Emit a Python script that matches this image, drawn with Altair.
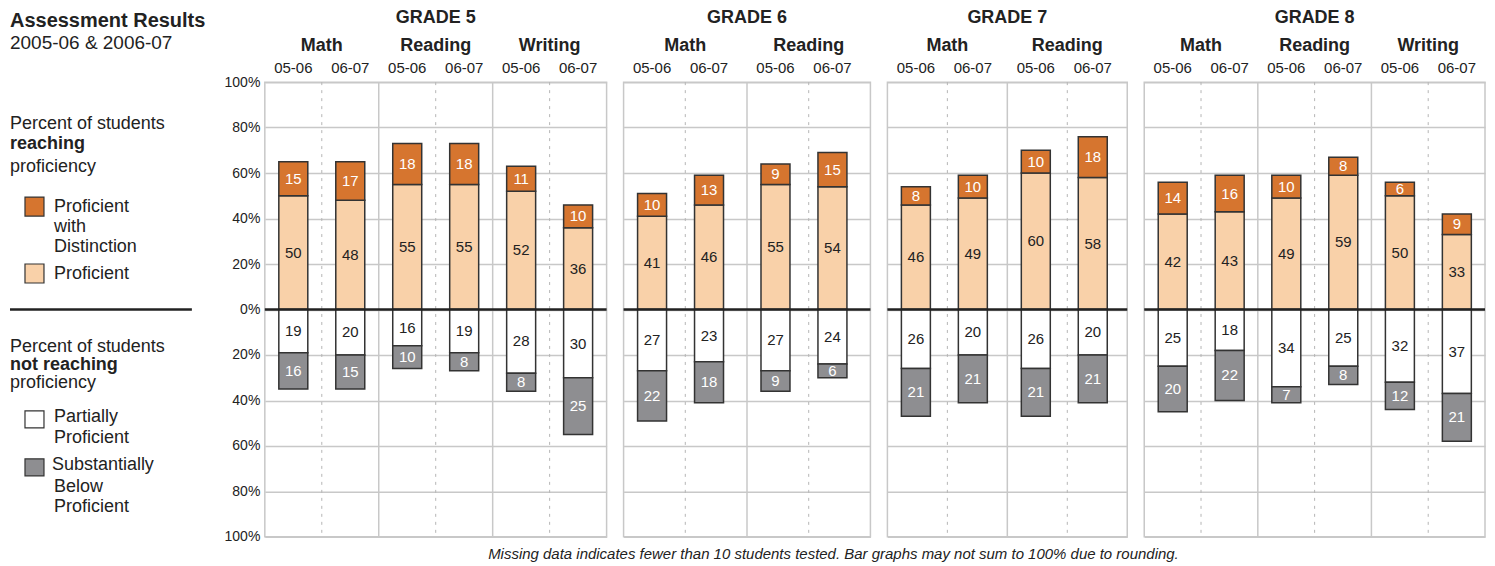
import altair as alt
import pandas as pd

# ---------------- data ----------------
grades = ["GRADE 5", "GRADE 6", "GRADE 7", "GRADE 8"]
grade_subjects = [
    ["Math", "Reading", "Writing"],
    ["Math", "Reading"],
    ["Math", "Reading"],
    ["Math", "Reading", "Writing"],
]
years = ["05-06", "06-07"]

bar_grade = ["GRADE 5"] * 6 + ["GRADE 6"] * 4 + ["GRADE 7"] * 4 + ["GRADE 8"] * 6
bar_subject = [
    "Math", "Math", "Reading", "Reading", "Writing", "Writing",
    "Math", "Math", "Reading", "Reading",
    "Math", "Math", "Reading", "Reading",
    "Math", "Math", "Reading", "Reading", "Writing", "Writing",
]
bar_year = years * 10

distinction = [15, 17, 18, 18, 11, 10, 10, 13, 9, 15, 8, 10, 10, 18, 14, 16, 10, 8, 6, 9]
proficient = [50, 48, 55, 55, 52, 36, 41, 46, 55, 54, 46, 49, 60, 58, 42, 43, 49, 59, 50, 33]
partially = [19, 20, 16, 19, 28, 30, 27, 23, 27, 24, 26, 20, 26, 20, 25, 18, 34, 25, 32, 37]
substantially = [16, 15, 10, 8, 8, 25, 22, 18, 9, 6, 21, 21, 21, 21, 20, 22, 7, 8, 12, 21]

levels = ["Proficient with Distinction", "Proficient", "Partially Proficient",
          "Substantially Below Proficient"]
level_colors = ["#D6752F", "#F9D1A9", "#FFFFFF", "#8E8E91"]

footnote = ("Missing data indicates fewer than 10 students tested. "
            "Bar graphs may not sum to 100% due to rounding.")

# ---------------- layout ----------------
FONT = "Liberation Sans, Arial, Helvetica, sans-serif"
TXT = "#222222"
GRID = "#c8c8c8"
H = 455
panel_widths = [342, 247, 240, 341]
LEG_W = 238
SPACING = 17

# ---------------- tables ----------------
bars = pd.DataFrame({"grade": bar_grade, "subject": bar_subject, "year": bar_year})
rows = []
for i in range(len(bar_grade)):
    p, d, pp, sb = proficient[i], distinction[i], partially[i], substantially[i]
    segs = [
        (levels[1], 0, p, p),
        (levels[0], p, p + d, d),
        (levels[2], 0, -pp, pp),
        (levels[3], -pp, -(pp + sb), sb),
    ]
    for lev, a, b, v in segs:
        rows.append({"grade": bar_grade[i], "subject": bar_subject[i], "year": bar_year[i],
                     "level": lev, "y0": a, "y1": b, "mid": (a + b) / 2, "val": v})
seg = pd.DataFrame(rows)


def panel(gi):
    g = grades[gi]
    subs = grade_subjects[gi]
    W = panel_widths[gi]
    first = gi == 0
    d = seg[seg.grade == g]
    b = bars[bars.grade == g]

    xaxis = alt.Axis(orient="top", title=None, labelFontSize=18, labelFontWeight="bold",
                     labelColor=TXT, labelFont=FONT, labelPadding=32,
                     labelBaseline="alphabetic", labelAngle=0, ticks=False, tickSize=0,
                     domain=False, grid=False)
    xscale = alt.Scale(domain=subs, paddingInner=0, paddingOuter=0)
    X = alt.X("subject:N", scale=xscale, axis=xaxis)
    XO = alt.XOffset("year:N", scale=alt.Scale(domain=years, paddingInner=0, paddingOuter=0))
    yaxis = alt.Axis(title=None, values=list(range(-100, 101, 20)), labels=first,
                     labelExpr="abs(datum.value) + '%'", labelFontSize=14, labelFont=FONT,
                     labelColor=TXT, labelPadding=5, ticks=False, domain=False,
                     grid=True, gridColor=GRID, gridWidth=1.5)
    yscale = alt.Scale(domain=[-100, 100], nice=False, zero=False)

    bar_layer = alt.Chart(d).mark_bar(width=29, stroke="#333333", strokeWidth=1.5).encode(
        x=X, xOffset=XO,
        y=alt.Y("y0:Q", scale=yscale, axis=yaxis),
        y2="y1:Q",
        color=alt.Color("level:N", scale=alt.Scale(domain=levels, range=level_colors), legend=None),
    )
    lab_layer = alt.Chart(d).mark_text(fontSize=15, font=FONT, baseline="middle").encode(
        x=X, xOffset=XO,
        y=alt.Y("mid:Q", scale=yscale, axis=yaxis),
        text="val:Q",
        color=alt.condition(
            alt.FieldOneOfPredicate(field="level", oneOf=[levels[0], levels[3]]),
            alt.value("white"), alt.value(TXT)),
    )
    year_layer = alt.Chart(b).mark_text(fontSize=15, font=FONT, color=TXT,
                                        baseline="alphabetic").encode(
        x=X, xOffset=XO, y=alt.value(-9), text="year:N")
    subj_df = pd.DataFrame({"subject": subs})
    sep_layer = alt.Chart(subj_df.iloc[1:]).mark_rule(color=GRID, strokeWidth=1.5).encode(
        x=alt.X("subject:N", scale=xscale, axis=xaxis, bandPosition=0))
    dash_layer = alt.Chart(subj_df).mark_rule(color="#b5b5b5", strokeWidth=1,
                                              strokeDash=[3, 5]).encode(
        x=alt.X("subject:N", scale=xscale, axis=xaxis, bandPosition=0.5))
    zero_layer = alt.Chart(pd.DataFrame({"y0": [0]})).mark_rule(
        color=TXT, strokeWidth=2.5).encode(y=alt.Y("y0:Q", scale=yscale, axis=yaxis))

    layers = [sep_layer, dash_layer, bar_layer, lab_layer, zero_layer, year_layer]
    if gi == 1:
        layers.append(
            alt.Chart(pd.DataFrame({"t": [footnote]})).mark_text(
                fontSize=15, font=FONT, fontStyle="italic", color=TXT,
                align="center", baseline="alphabetic").encode(
                x=alt.value(210), y=alt.value(H + 22), text="t:N"))
    return alt.layer(*layers).properties(
        width=W, height=H,
        title=alt.TitleParams(g, fontSize=18, fontWeight="bold", color=TXT, font=FONT,
                              anchor="middle", baseline="alphabetic", offset=-5),
        view=alt.ViewBackground(stroke=GRID, strokeWidth=1.5),
    )


# ---------------- legend panel ----------------
leg_lines = [
    ("Assessment Results", 0, -55, "title"),
    ("2005-06 & 2006-07", 0, -33, "sub"),
    ("Percent of students", 0, 47, "n"),
    ("reaching", 0, 67, "b"),
    ("proficiency", 0, 90, "n"),
    ("Proficient", 44, 130, "n"),
    ("with", 44, 150, "n"),
    ("Distinction", 44, 170, "n"),
    ("Proficient", 44, 197, "n"),
    ("Percent of students", 0, 270, "n"),
    ("not reaching", 0, 288, "b"),
    ("proficiency", 0, 306, "n"),
    ("Partially", 44, 340, "n"),
    ("Proficient", 44, 361, "n"),
    ("Substantially", 42, 388, "n"),
    ("Below", 44, 410, "n"),
    ("Proficient", 44, 430, "n"),
]
leg = pd.DataFrame(leg_lines, columns=["t", "x", "y", "kind"])
sw = pd.DataFrame({"level": levels, "x": [15] * 4, "x2": [34] * 4,
                   "y": [115, 182, 329, 377], "y2": [134, 201, 346, 394],
                   "c": level_colors})


def leg_text(kind, size, weight):
    return alt.Chart(leg[leg.kind == kind]).mark_text(
        align="left", baseline="alphabetic", fontSize=size, fontWeight=weight,
        font=FONT, color=TXT).encode(
        x=alt.X("x:Q", scale=None, axis=None), y=alt.Y("y:Q", scale=None, axis=None),
        text="t:N")


legend_panel = alt.layer(
    leg_text("title", 20, "bold"),
    leg_text("sub", 19, "normal"),
    leg_text("n", 18, "normal"),
    leg_text("b", 18, "bold"),
    alt.Chart(sw).mark_rect(stroke="#333333", strokeWidth=1.2).encode(
        x=alt.X("x:Q", scale=None, axis=None), x2="x2:Q",
        y=alt.Y("y:Q", scale=None, axis=None), y2="y2:Q",
        fill=alt.Fill("c:N", scale=None)),
    alt.Chart(pd.DataFrame({"a": [0]})).mark_rule(color=TXT, strokeWidth=2.5).encode(
        x=alt.value(0), x2=alt.value(182), y=alt.value(H / 2)),
).properties(width=LEG_W, height=H, view=alt.ViewBackground(strokeWidth=0))

chart = alt.hconcat(legend_panel, *[panel(i) for i in range(4)],
                    spacing=SPACING, bounds="flush").properties(
    padding=0, background="white")

chart.save("out.html", embed_options={"renderer": "svg", "actions": False})
